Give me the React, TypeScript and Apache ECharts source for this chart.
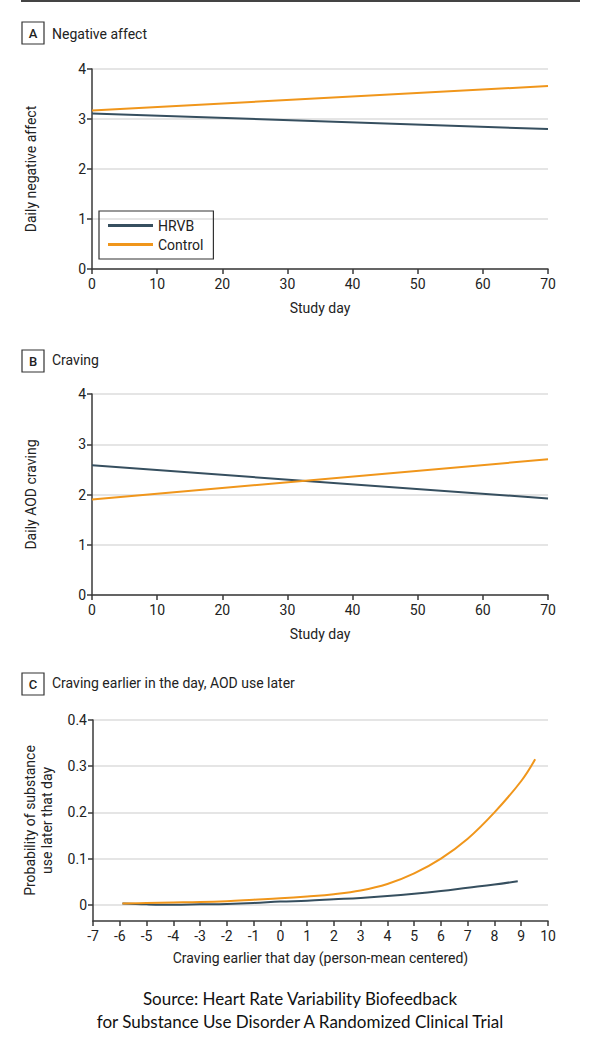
import React, { useEffect, useRef } from "react";
import * as echarts from "echarts";

const SERIES_NAMES = ["HRVB", "Control"];
const studyDays = [0, 70];
const negAffectHRVB = [3.11, 2.8];
const negAffectControl = [3.17, 3.66];
const cravingHRVB = [2.58, 1.92];
const cravingControl = [1.9, 2.7];

const cravingX_HRVB = [-5.9, -5, -4, -3, -2, -1, 0, 1, 2, 3, 4, 5, 6, 7, 8, 8.87];
const useProb_HRVB = [0.003, 0.001, 0.0, 0.001, 0.002, 0.004, 0.007, 0.009, 0.012, 0.015, 0.019, 0.024, 0.03, 0.037, 0.044, 0.051];
const cravingX_Control = [-5.9, -5, -4, -3, -2, -1, 0, 1, 2, 3, 4, 5, 6, 7, 8, 9, 9.52];
const useProb_Control = [0.003, 0.004, 0.005, 0.006, 0.008, 0.011, 0.014, 0.018, 0.023, 0.031, 0.045, 0.068, 0.1, 0.143, 0.2, 0.268, 0.315];

const yTicksC = [0, 0.1, 0.2, 0.3, 0.4];

const panelTitles = ["Negative affect", "Craving", "Craving earlier in the day, AOD use later"];
const panelLetters = ["A", "B", "C"];
const sourceLines = [
  "Source: Heart Rate Variability Biofeedback",
  "for Substance Use Disorder A Randomized Clinical Trial",
];

const COLORS = ["#364f5f", "#f0961b"];
const FONT = "Roboto";
const AXIS_COLOR = "#3a3a3a";
const TEXT_COLOR = "#222";

export default function App() {
  const ref = useRef<HTMLDivElement>(null);
  useEffect(() => {
    document.body.style.margin = "0";
    const chart = echarts.init(ref.current!, null, { renderer: "svg" });

    const axisCommon = {
      axisLine: { show: true, onZero: false, lineStyle: { color: AXIS_COLOR, width: 1.5 } },
      axisTick: { show: true, length: 5, lineStyle: { color: AXIS_COLOR, width: 1.5 } },
      axisLabel: { color: TEXT_COLOR, fontFamily: FONT, fontSize: 14 },
      nameTextStyle: { color: TEXT_COLOR, fontFamily: FONT, fontSize: 14 },
    };
    const splitLine = { show: true, lineStyle: { color: "#dcdcdc", width: 1.5 } };

    const pair = (xs: number[], ys: number[]) => xs.map((x, i) => [x, ys[i]]);

    const titleY = [34, 360, 683];
    const boxY = [22, 350, 673];

    const graphics: any[] = [
      { type: "line", shape: { x1: 21, y1: 1, x2: 580, y2: 1 }, style: { stroke: "#444", lineWidth: 2 } },
    ];
    panelLetters.forEach((l, i) => {
      graphics.push({
        type: "rect",
        shape: { x: 22, y: boxY[i], width: 22, height: 22 },
        style: { fill: "#fff", stroke: "#333", lineWidth: 1.2 },
      });
      graphics.push({
        type: "text",
        x: 33,
        y: boxY[i] + 11,
        style: { text: l, fill: TEXT_COLOR, font: `500 13px ${FONT}`, textAlign: "center", textVerticalAlign: "middle" },
      });
      graphics.push({
        type: "text",
        x: 52,
        y: titleY[i],
        style: { text: panelTitles[i], fill: TEXT_COLOR, font: `14px ${FONT}`, textAlign: "left", textVerticalAlign: "middle" },
      });
    });
    sourceLines.forEach((s, i) => {
      graphics.push({
        type: "text",
        x: 300,
        y: 998 + i * 23,
        style: { text: s, fill: "#111", font: `17px Lato`, textAlign: "center", textVerticalAlign: "middle" },
      });
    });

    chart.setOption({
      animation: false,
      backgroundColor: "#fff",
      color: COLORS,
      grid: [
        { left: 92, top: 69, width: 456, height: 200 },
        { left: 92, top: 394, width: 456, height: 201 },
        { left: 93, top: 720, width: 455, height: 201 },
      ],
      legend: {
        data: SERIES_NAMES,
        orient: "vertical",
        left: 99,
        top: 211,
        width: 112,
        borderColor: "#333",
        borderWidth: 1.2,
        padding: [6, 10, 6, 9],
        itemWidth: 45,
        itemHeight: 3,
        itemGap: 2,
        icon: "rect",
        itemStyle: { borderWidth: 0 },
        textStyle: { color: TEXT_COLOR, fontFamily: FONT, fontSize: 14, lineHeight: 17 },
      },
      xAxis: [
        {
          ...axisCommon, gridIndex: 0, type: "value", min: 0, max: 70, interval: 10,
          name: "Study day", nameLocation: "middle", nameGap: 32, splitLine: { show: false },
        },
        {
          ...axisCommon, gridIndex: 1, type: "value", min: 0, max: 70, interval: 10,
          name: "Study day", nameLocation: "middle", nameGap: 32, splitLine: { show: false },
        },
        {
          ...axisCommon, gridIndex: 2, type: "value", min: -7, max: 10, interval: 1,
          name: "Craving earlier that day (person-mean centered)", nameLocation: "middle", nameGap: 30,
          splitLine: { show: false },
        },
      ],
      yAxis: [
        {
          ...axisCommon, gridIndex: 0, type: "value", min: 0, max: 4, interval: 1,
          axisLabel: { ...axisCommon.axisLabel, margin: 6 },
          name: "Daily negative affect", nameLocation: "middle", nameGap: 54, splitLine,
        },
        {
          ...axisCommon, gridIndex: 1, type: "value", min: 0, max: 4, interval: 1,
          axisLabel: { ...axisCommon.axisLabel, margin: 6 },
          name: "Daily AOD craving", nameLocation: "middle", nameGap: 54, splitLine,
        },
        {
          ...axisCommon, gridIndex: 2, type: "value", min: -0.035, max: 0.4,
          axisTick: { ...axisCommon.axisTick, customValues: yTicksC },
          axisLabel: { ...axisCommon.axisLabel, margin: 6, customValues: yTicksC, formatter: (v: number) => (v === 0 ? "0" : v.toFixed(1)) },
          name: "Probability of substance\nuse later that day", nameLocation: "middle", nameGap: 38,
          nameTextStyle: { ...axisCommon.nameTextStyle, lineHeight: 17 },
          splitLine,
        },
      ],
      series: [
        { name: "HRVB", type: "line", xAxisIndex: 0, yAxisIndex: 0, symbol: "none", lineStyle: { width: 2 }, data: pair(studyDays, negAffectHRVB) },
        { name: "Control", type: "line", xAxisIndex: 0, yAxisIndex: 0, symbol: "none", lineStyle: { width: 2 }, data: pair(studyDays, negAffectControl) },
        { name: "HRVB", type: "line", xAxisIndex: 1, yAxisIndex: 1, symbol: "none", lineStyle: { width: 2 }, data: pair(studyDays, cravingHRVB) },
        { name: "Control", type: "line", xAxisIndex: 1, yAxisIndex: 1, symbol: "none", lineStyle: { width: 2 }, data: pair(studyDays, cravingControl) },
        { name: "HRVB", type: "line", xAxisIndex: 2, yAxisIndex: 2, symbol: "none", smooth: 0.4, lineStyle: { width: 2 }, data: pair(cravingX_HRVB, useProb_HRVB) },
        { name: "Control", type: "line", xAxisIndex: 2, yAxisIndex: 2, symbol: "none", smooth: 0.4, lineStyle: { width: 2 }, data: pair(cravingX_Control, useProb_Control) },
      ],
      graphic: graphics,
    });
    return () => chart.dispose();
  }, []);
  return <div ref={ref} style={{ width: 600, height: 1047 }} />;
}
